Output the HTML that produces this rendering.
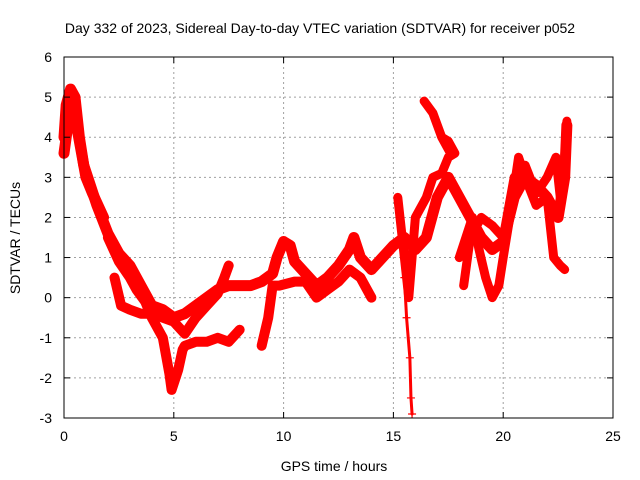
<!DOCTYPE html>
<html><head><meta charset="utf-8"><style>
body{margin:0;background:#fff}
svg{display:block;font-family:"Liberation Sans",sans-serif}
</style></head><body>
<svg width="640" height="480" viewBox="0 0 640 480">
<rect width="640" height="480" fill="#fff"/>
<text x="320" y="33" text-anchor="middle" font-size="14">Day 332 of 2023, Sidereal Day-to-day VTEC variation (SDTVAR) for receiver p052</text>
<g id="grid"></g>
<g id="marks"></g>
<rect x="64" y="57" width="549" height="361" fill="none" stroke="#000" stroke-width="1"/>
<g id="ticks"></g>
<text x="334" y="471" text-anchor="middle" font-size="14">GPS time / hours</text>
<text transform="translate(20,238) rotate(-90)" text-anchor="middle" font-size="14">SDTVAR / TECUs</text>
</svg>
<script>
const xTicks=[0,5,10,15,20,25];
const yTicks=[-3,-2,-1,0,1,2,3,4,5,6];
const trackMainX=[0,0.1,0.3,0.5,0.7,0.9,1.2,1.5,2.0,2.5,3.0,3.5,4.0,4.5,5.0,5.5,6.0,6.5,7.0,7.5,8.0,8.5,9.0,9.5,9.7,10.0,10.3,10.5,11.0,11.5,12.0,12.5,13.0,13.2,13.5,14.0,14.5,15.0,15.5,16.0,16.5,17.0,17.5,18.0,18.5,19.0,19.5,20.0,20.5,21.0,21.5,22.0,22.5,22.8,22.9];
const trackMainY=[4.0,4.8,5.2,5.0,4.0,3.3,2.8,2.3,1.6,1.1,0.8,0.3,-0.2,-0.3,-0.5,-0.4,-0.2,0.0,0.2,0.3,0.3,0.3,0.4,0.6,1.0,1.4,1.3,0.9,0.6,0.3,0.5,0.8,1.2,1.5,1.0,0.7,1.0,1.3,1.5,1.2,1.5,2.5,3.0,2.5,2.0,1.5,1.2,1.4,2.5,3.0,2.8,2.5,2.0,3.0,4.3];
const trackStartX=[0,0.2,0.4,0.6,0.8,1.0,1.3,1.8];
const trackStartY=[3.6,4.4,4.6,4.2,3.6,3.0,2.6,2.0];
const trackDipX=[2.0,2.5,3.0,3.3,3.7,4.0,4.5,4.8,4.9,5.2,5.4,5.5,6.0,6.5,7.0,7.5,8.0];
const trackDipY=[1.5,0.9,0.5,0.2,-0.1,-0.5,-1.0,-1.9,-2.3,-1.8,-1.3,-1.2,-1.1,-1.1,-1.0,-1.1,-0.8];
const trackLowX=[2.3,2.6,3.0,3.5,4.0,4.5,5.0,5.5,6.0,6.5,7.0,7.3,7.5];
const trackLowY=[0.5,-0.2,-0.3,-0.4,-0.4,-0.5,-0.6,-0.9,-0.5,-0.2,0.1,0.5,0.8];
const trackMidX=[9.0,9.3,9.5,9.8,10.5,11.0,11.5,12.0,12.5,13.0,13.5,14.0];
const trackMidY=[-1.2,-0.5,0.3,0.3,0.4,0.4,0.0,0.2,0.4,0.7,0.5,0.0];
const trackHighX=[15.2,15.5,15.7,16.0,16.5,16.8,17.2,17.5,17.8,17.5,17.2,16.8,16.4,16.8,17.2,17.6];
const trackHighY=[2.5,1.0,0.0,2.0,2.5,3.0,3.1,3.5,3.6,3.9,4.0,4.6,4.9,4.6,4.0,3.6];
const trackSpikeX=[15.5,15.6,15.75,15.8,15.85];
const trackSpikeY=[0.5,-0.5,-1.5,-2.5,-2.9];
const trackEndX=[18.0,18.3,18.6,18.9,19.2,19.5,19.8,20.0,20.3,20.7,21.0,21.5,22.0,22.3,22.6,22.8];
const trackEndY=[1.0,1.5,2.0,1.2,0.5,0.0,0.3,1.0,2.0,3.5,3.0,2.3,2.5,1.0,0.8,0.7];
const trackLateX=[18.2,18.5,19.0,19.5,20.0,20.5,21.0,21.5,22.0,22.4,22.6,22.8,22.9];
const trackLateY=[0.3,1.5,2.0,1.8,1.5,3.0,3.3,2.6,3.0,3.5,2.5,3.5,4.4];
const tracks=[[trackMainX,trackMainY,11],[trackStartX,trackStartY,11],[trackDipX,trackDipY,10],[trackLowX,trackLowY,10],[trackMidX,trackMidY,10],[trackHighX,trackHighY,9],[trackSpikeX,trackSpikeY,3],[trackEndX,trackEndY,9],[trackLateX,trackLateY,9]];
const NS="http://www.w3.org/2000/svg";
const X0=64,X1=613,Y0=418,Y1=57;
function sx(v){return X0+(v-0)/25*(X1-X0);}
function sy(v){return Y0-(v+3)/9*(Y0-Y1);}
const grid=document.getElementById('grid'),ticks=document.getElementById('ticks'),marks=document.getElementById('marks');
function mk(tag,a,p){const e=document.createElementNS(NS,tag);for(const k in a)e.setAttribute(k,a[k]);p.appendChild(e);return e;}
xTicks.forEach(t=>{const x=sx(t);
 if(t>0&&t<25){const g=mk('line',{x1:x,x2:x,y1:Y1,y2:Y0,stroke:'#a0a0a0','stroke-dasharray':'2,3'},grid);
 
 }
 mk('line',{x1:x,x2:x,y1:Y0,y2:Y0-6,stroke:'#000'},ticks);mk('line',{x1:x,x2:x,y1:Y1,y2:Y1+6,stroke:'#000'},ticks);
 const l=mk('text',{x:x,y:Y0+23,'text-anchor':'middle','font-size':'14'},ticks);l.textContent=t;
 
 });
yTicks.forEach(t=>{const y=sy(t);
 if(t>-3&&t<6){const g=mk('line',{x1:X0,x2:X1,y1:y,y2:y,stroke:'#a0a0a0','stroke-dasharray':'2,3'},grid);
 
 }
 mk('line',{x1:X0,x2:X0+6,y1:y,y2:y,stroke:'#000'},ticks);mk('line',{x1:X1,x2:X1-6,y1:y,y2:y,stroke:'#000'},ticks);
 const l=mk('text',{x:X0-12,y:y+5,'text-anchor':'end','font-size':'14'},ticks);l.textContent=t;
 
 });
tracks.forEach(tr=>{const xs=tr[0],ys=tr[1],w=tr[2];
 const pts=xs.map((v,j)=>sx(v)+','+sy(ys[j])).join(' ');
 const pl=mk('polyline',{points:pts,fill:'none',stroke:'#f00','stroke-width':w,'stroke-linejoin':'round','stroke-linecap':'round'},marks);
 
 
 xs.forEach((v,j)=>{const x=sx(v),y=sy(ys[j]);
  const p=mk('path',{d:`M${x-4},${y}H${x+4}M${x},${y-4}V${y+4}`,stroke:'#f00','stroke-width':'1.2'},marks);
  
  });});
</script>
</body></html>
